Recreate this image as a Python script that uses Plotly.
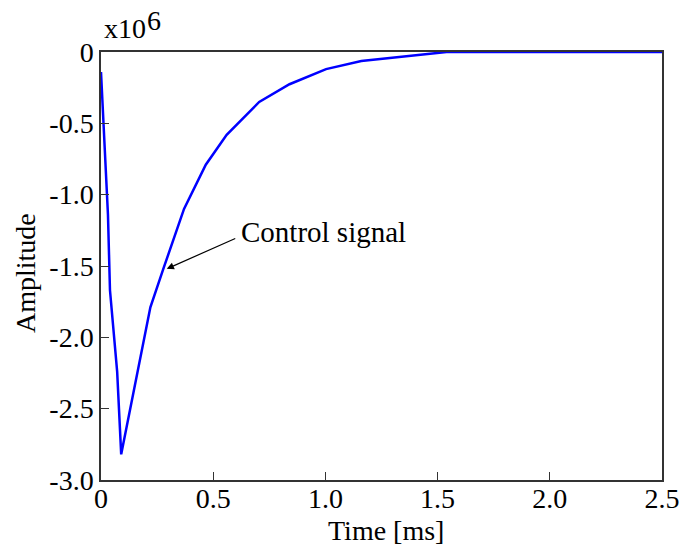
import plotly.graph_objects as go

# Control signal samples: time in ms, amplitude in units of 1e6
time_ms = [0.0, 0.031, 0.04, 0.072, 0.09, 0.22, 0.28, 0.37, 0.467, 0.56, 0.705, 0.84, 1.003, 1.16, 1.54, 2.5]
amplitude = [-0.14, -1.14, -1.67, -2.24, -2.82, -1.79, -1.51, -1.10, -0.79, -0.58, -0.35, -0.226, -0.12, -0.063, 0.0, 0.0]

x_ticks = [0, 0.5, 1.0, 1.5, 2.0, 2.5]
x_tick_text = ["0", "0.5", "1.0", "1.5", "2.0", "2.5"]
y_ticks = [0, -0.5, -1.0, -1.5, -2.0, -2.5, -3.0]
y_tick_text = ["0", "-0.5", "-1.0", "-1.5", "-2.0", "-2.5", "-3.0"]

FONT = "Liberation Serif, Times New Roman, serif"
AXIS_COLOR = "#333333"
FS = 28

fig = go.Figure()
fig.add_trace(go.Scatter(
    x=time_ms, y=amplitude, mode="lines",
    line=dict(color="#0000FF", width=2.5),
    showlegend=False, hoverinfo="skip",
))

axis_common = dict(
    showgrid=False, zeroline=False, automargin=False,
    showline=True, linecolor=AXIS_COLOR, linewidth=1.5, mirror=True,
    ticks="inside", ticklen=8, tickwidth=1.2, tickcolor=AXIS_COLOR,
    tickfont=dict(family=FONT, size=FS, color="black"),
)

fig.update_xaxes(
    range=[0, 2.5], tickvals=x_ticks, ticktext=x_tick_text,
    ticklabelstandoff=-7,
    **axis_common,
)
fig.update_yaxes(
    range=[-3.0, 0], tickvals=y_ticks, ticktext=y_tick_text,
    **axis_common,
)

# Axis titles
fig.add_annotation(
    text="Time [ms]", xref="paper", yref="paper", x=0.508, y=-0.119,
    xanchor="center", yanchor="middle", showarrow=False,
    font=dict(family=FONT, size=FS, color="black"),
)
fig.add_annotation(
    text="Amplitude", xref="paper", yref="paper", x=-0.1355, y=0.4836,
    xanchor="center", yanchor="middle", showarrow=False, textangle=-90,
    font=dict(family=FONT, size=FS, color="black"),
)

# Scale factor label above the y axis: "x10" with a raised exponent
fig.add_annotation(
    text="x10", xref="paper", yref="paper", x=0.0, y=1.0,
    xanchor="left", yanchor="bottom", yshift=6, xshift=1, showarrow=False,
    font=dict(family=FONT, size=FS, color="black"),
)
fig.add_annotation(
    text="6", xref="paper", yref="paper", x=0.0, y=1.0,
    xanchor="left", yanchor="bottom", yshift=14, xshift=44, showarrow=False,
    font=dict(family=FONT, size=FS, color="black"),
)

# Arrow pointing to the curve
fig.add_annotation(
    text="", x=0.293, y=-1.52, xref="x", yref="y",
    ax=70, ay=-31,
    showarrow=True, arrowhead=2, arrowsize=1.2, arrowwidth=1.2, arrowcolor="black",
)
# Curve label
fig.add_annotation(
    text="Control signal", x=0.616, y=-1.26, xref="x", yref="y",
    showarrow=False, xanchor="left", yanchor="middle",
    font=dict(family=FONT, size=29, color="black"),
)

fig.update_layout(
    width=685, height=553,
    margin=dict(l=101, r=23, t=52, b=73),
    paper_bgcolor="white", plot_bgcolor="white",
)

fig.write_html("out.html")
